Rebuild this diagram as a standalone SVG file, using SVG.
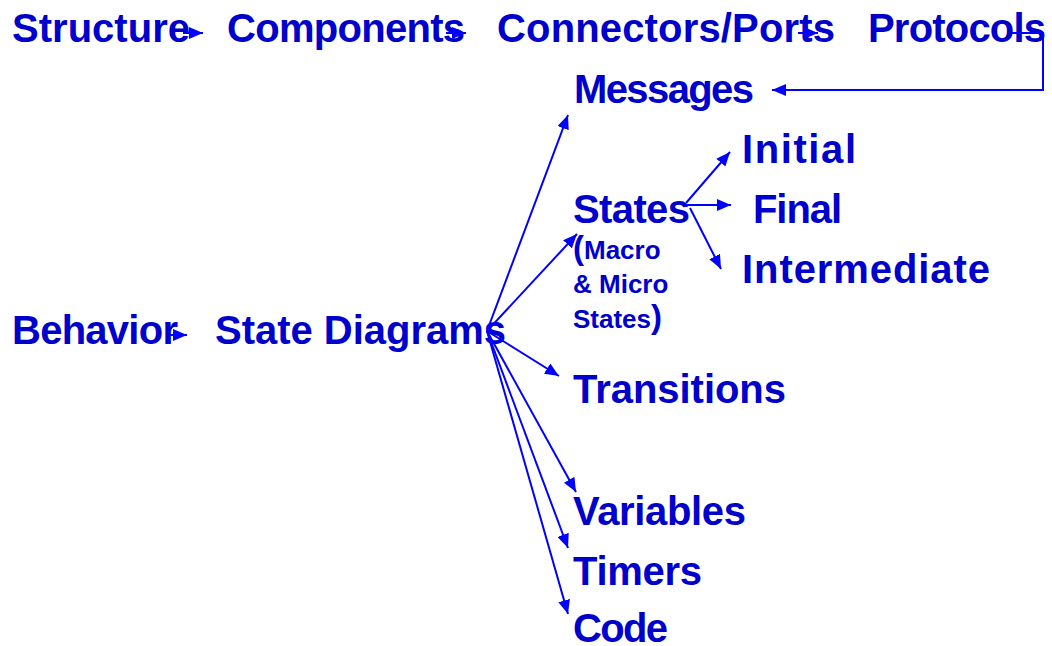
<svg xmlns="http://www.w3.org/2000/svg" width="1052" height="646" viewBox="0 0 1052 646">
  <style>
    .lbl { font-family: "Liberation Sans", Arial, sans-serif; font-weight: bold; font-size: 40px; fill: #0000CC; }
    .sub { font-family: "Liberation Sans", Arial, sans-serif; font-weight: bold; font-size: 26px; fill: #0000CC; }
    .par { font-size: 33px; }
    .edge { fill: none; stroke: #0000FF; stroke-width: 2; marker-end: url(#head); }
  </style>
  <defs>
    <marker id="head" markerUnits="userSpaceOnUse" markerWidth="16" markerHeight="12" refX="14" refY="6" orient="auto">
      <path d="M0,0 L14,6 L0,12 Z" fill="#0000FF"/>
    </marker>
  </defs>
  <rect width="1052" height="646" fill="#FFFFFF"/>

  <!-- top row: structure chain -->
  <g id="structure"><text class="lbl" x="12" y="42" textLength="178">Structure</text></g>
  <g id="components"><text class="lbl" x="227" y="42" textLength="238">Components</text></g>
  <g id="connectors"><text class="lbl" x="497" y="42" textLength="338">Connectors/Ports</text></g>
  <g id="protocols"><text class="lbl" x="868" y="42" textLength="178">Protocols</text></g>
  <g id="messages"><text class="lbl" x="574" y="103" textLength="180">Messages</text></g>

  <!-- behaviour tree -->
  <g id="behavior"><text class="lbl" x="12" y="344" textLength="166">Behavior</text></g>
  <g id="state-diagrams"><text class="lbl" x="215" y="344" textLength="291">State Diagrams</text></g>
  <g id="states">
    <text class="lbl" x="573" y="223" textLength="117">States</text>
    <text class="sub" x="573" y="259"><tspan class="par">(</tspan>Macro</text>
    <text class="sub" x="573" y="293">&amp; Micro</text>
    <text class="sub" x="573" y="328">States<tspan class="par">)</tspan></text>
  </g>
  <g id="initial"><text class="lbl" x="742" y="163" textLength="114">Initial</text></g>
  <g id="final"><text class="lbl" x="753" y="223" textLength="89">Final</text></g>
  <g id="intermediate"><text class="lbl" x="742" y="283" textLength="248">Intermediate</text></g>
  <g id="transitions"><text class="lbl" x="573" y="403" textLength="213">Transitions</text></g>
  <g id="variables"><text class="lbl" x="573" y="525" textLength="173">Variables</text></g>
  <g id="timers"><text class="lbl" x="573" y="585" textLength="129">Timers</text></g>
  <g id="code"><text class="lbl" x="573" y="642" textLength="95">Code</text></g>

  <!-- connectors -->
  <g id="connectors-lines">
    <line class="edge" x1="183" y1="33" x2="203" y2="33"/>
    <line class="edge" x1="446" y1="33" x2="466" y2="33"/>
    <line class="edge" x1="798" y1="33" x2="818" y2="33"/>
    <path class="edge" d="M1012,33 H1043 V90 H772"/>
    <line class="edge" x1="170" y1="335" x2="187" y2="335"/>

    <line class="edge" x1="487" y1="331" x2="568" y2="115"/>
    <line class="edge" x1="487" y1="331" x2="577" y2="234"/>
    <line class="edge" x1="487" y1="331" x2="559" y2="376"/>
    <line class="edge" x1="487" y1="331" x2="576" y2="492"/>
    <line class="edge" x1="487" y1="331" x2="568" y2="548"/>
    <line class="edge" x1="487" y1="331" x2="568" y2="614"/>

    <line class="edge" x1="686" y1="203" x2="730" y2="152"/>
    <line class="edge" x1="686" y1="205" x2="731" y2="205"/>
    <line class="edge" x1="690" y1="208" x2="721" y2="269"/>
  </g>
</svg>
